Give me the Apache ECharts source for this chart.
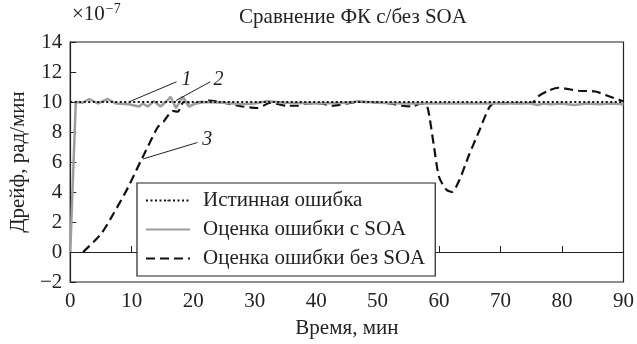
<!DOCTYPE html>
<html><head><meta charset="utf-8">
<script src="https://cdn.jsdelivr.net/npm/echarts@6/dist/echarts.min.js"></script>
<style>html,body{margin:0;padding:0;background:#fff}#c{width:637px;height:344px}</style>
</head><body><div id="c"></div>
<script>
// Data (values in units of 1e-7 rad/min)
const xTicks = [0,10,20,30,40,50,60,70,80,90];
const yTicks = [-2,0,2,4,6,8,10,12,14];
const seriesNames = ['Истинная ошибка','Оценка ошибки с SOA','Оценка ошибки без SOA'];
const trueErr = [[0,10],[90,10]];
const withSOA = [[0,0],[0.9,10],[2,9.95],[3.1,10.2],[4.5,9.9],[6.1,10.2],[7.4,9.9],[9.5,9.85],[11.2,9.7],[11.8,9.9],[12.6,9.7],[13.6,10.05],[14.7,9.7],[15.8,10.1],[16.3,10.35],[17.2,9.6],[18.3,10.35],[19.3,9.7],[20.4,9.9],[22,10.0],[25,9.95],[28,9.85],[30,9.9],[32,10.05],[35,9.95],[40,9.9],[45,9.95],[47,10.05],[50,9.95],[54,9.9],[58,9.9],[65,9.9],[70,9.9],[75,9.9],[76,9.8],[77,9.9],[78,9.85],[80,9.9],[82,9.8],[84,9.9],[86,9.85],[88,9.9],[90,9.85]];
const withoutSOA = [[2.1,0],[5,1.2],[7.1,2.6],[9.4,4.3],[11.5,6.1],[12,6.5],[14.2,8.3],[15.2,8.7],[16.7,9.4],[17.5,9.35],[18,9.75],[18.5,10.0],[20.1,9.9],[22.5,10.1],[25.6,9.9],[28,9.7],[30.4,9.6],[31.4,9.75],[32.5,9.95],[35.3,9.75],[36.9,9.75],[38.5,9.9],[40.6,9.9],[42.7,9.75],[45,9.9],[47.1,10.0],[52,9.9],[54,9.75],[55.5,9.7],[57.1,9.9],[58,9.75],[58.4,9.1],[59.2,6.95],[60,5.0],[61.2,4.15],[62.1,4.0],[63.3,4.8],[64.9,6.5],[66.5,8.05],[68.1,9.6],[68.9,9.9],[75.1,9.95],[76.2,10.4],[77.8,10.75],[79.4,10.95],[82.7,10.75],[85.4,10.7],[87.5,10.4],[89.6,10.1],[90,10.05]];
// Annotation leaders: [label, fromX, fromY, toX, toY, labelX, labelY] in data coords
const annotations = [
  ['1', 9.5, 10.0, 17.3, 11.35, 18.9, 11.5],
  ['2', 17.2, 10.1, 22.8, 11.35, 24.1, 11.5],
  ['3', 11.8, 6.2, 20.7, 7.3, 22.3, 7.5]
];
const F = '"Liberation Serif","DejaVu Serif",serif';
const FS = 21;
const chart = echarts.init(document.getElementById('c'));
const fmt = v => (v < 0 ? '\u2212' + Math.abs(v) : String(v));
chart.setOption({
  animation: false,
  backgroundColor: '#fff',
  title: {text: 'Сравнение ФК с/без SOA', left: 348, top: 2, textAlign: 'center',
    textStyle: {fontFamily: F, fontSize: FS, fontWeight: 'normal', color: '#222'}},
  grid: {left: 69, right: 12, top: 42, bottom: 57, show: true, borderColor: '#222', borderWidth: 1.2, backgroundColor: 'transparent'},
  legend: {
    data: seriesNames, orient: 'vertical', left: 137, top: 183, width: 295,
    backgroundColor: '#fff', borderColor: '#222', borderWidth: 1.2, padding: [7, 10, 7, 8],
    itemWidth: 44, itemHeight: 2, itemGap: 8,
    textStyle: {fontFamily: F, fontSize: FS, color: '#222', padding: [0,0,0,8], lineHeight: 21}
  },
  xAxis: {
    type: 'value', min: 0, max: 90, interval: 10,
    name: 'Время, мин', nameLocation: 'middle', nameGap: 36,
    nameTextStyle: {fontFamily: F, fontSize: FS, color: '#222'},
    axisLine: {lineStyle: {color: '#222', width: 1.2}},
    axisTick: {inside: true, length: 6, lineStyle: {color: '#222'}},
    axisLabel: {fontFamily: F, fontSize: FS, color: '#222', margin: 9, formatter: fmt},
    splitLine: {show: false}
  },
  yAxis: {
    type: 'value', min: -2, max: 14, interval: 2,
    name: 'Дрейф, рад/мин', nameLocation: 'middle', nameGap: 34,
    nameTextStyle: {fontFamily: F, fontSize: FS, color: '#222'},
    axisLine: {lineStyle: {color: '#222', width: 1.2}},
    axisTick: {inside: true, length: 6, lineStyle: {color: '#222'}},
    axisLabel: {fontFamily: F, fontSize: FS, color: '#222', margin: 8, formatter: fmt},
    splitLine: {show: false}
  },
  series: [
    {name: seriesNames[0], type: 'line', data: trueErr, symbol: 'none', z: 4,
      lineStyle: {color: '#111', width: 1.8, type: [2, 2.5]}, itemStyle: {color: '#111'}},
    {name: seriesNames[1], type: 'line', data: withSOA, symbol: 'none', z: 3,
      lineStyle: {color: '#9d9d9d', width: 2.5}, itemStyle: {color: '#9d9d9d'}},
    {name: seriesNames[2], type: 'line', data: withoutSOA, symbol: 'none', smooth: 0.25, z: 2,
      lineStyle: {color: '#111', width: 2.2, type: [9, 5]}, itemStyle: {color: '#111'}}
  ]
});
const g = [];
annotations.forEach(a => {
  const p1 = chart.convertToPixel({gridIndex: 0}, [a[1], a[2]]);
  const p2 = chart.convertToPixel({gridIndex: 0}, [a[3], a[4]]);
  const p3 = chart.convertToPixel({gridIndex: 0}, [a[5], a[6]]);
  g.push({type: 'line', shape: {x1: p1[0], y1: p1[1], x2: p2[0], y2: p2[1]}, style: {stroke: '#222', lineWidth: 1}, z: 10});
  g.push({type: 'text', x: p3[0], y: p3[1], style: {text: a[0], font: 'italic 20px ' + F, fill: '#222', align: 'center', verticalAlign: 'middle'}, z: 10});
});
g.push({type: 'text', x: 72, y: 2, style: {
  text: '{a|×10}{b|\u22127}', rich: {a: {fontFamily: F, fontSize: FS, fill: '#222', verticalAlign: 'bottom'}, b: {fontFamily: F, fontSize: 14, fill: '#222', padding: [0,0,9,1]}}
}, z: 10});
chart.setOption({graphic: g});
</script></body></html>
